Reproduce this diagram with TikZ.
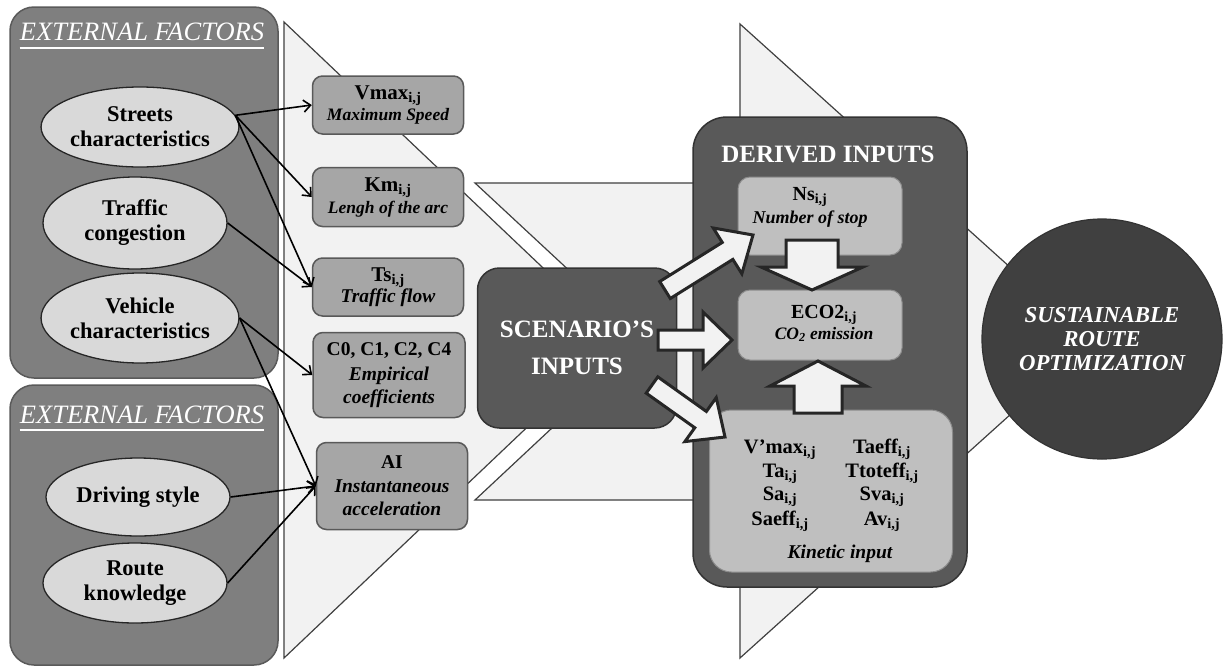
\documentclass[tikz,border=0pt]{standalone}
\usepackage{fontspec}
\setmainfont{Liberation Serif}
\usetikzlibrary{arrows.meta,shapes.geometric,calc}

\definecolor{trifill}{HTML}{F2F2F2}
\definecolor{triline}{HTML}{404040}
\definecolor{panelfill}{HTML}{7F7F7F}
\definecolor{panelline}{HTML}{5A5A5A}
\definecolor{ellfill}{HTML}{D9D9D9}
\definecolor{ellline}{HTML}{262626}
\definecolor{parfill}{HTML}{A6A6A6}
\definecolor{parline}{HTML}{595959}
\definecolor{darkfill}{HTML}{595959}
\definecolor{darkline}{HTML}{333333}
\definecolor{innerfill}{HTML}{BFBFBF}
\definecolor{innerline}{HTML}{8C8C8C}
\definecolor{goalfill}{HTML}{404040}
\definecolor{arrowfill}{HTML}{F2F2F2}
\definecolor{arrowline}{HTML}{262626}

\newcommand\ijsub{\textsubscript{i,j}}
\newcommand\fsz[2]{\fontsize{#1}{#2}\selectfont}
% thick outlined block arrow from #1 to #2: shaft half width #3, head half width #4, head length #5
\newcommand\blockarrow[5]{%
  \coordinate (bah) at ($(#2)!#5!(#1)$);
  \draw[blockarrow] ($(#1)!#3!90:(#2)$) -- ($(bah)!#3!-90:(#1)$) -- ($(bah)!#4!-90:(#1)$)
    -- (#2) -- ($(bah)!#4!90:(#1)$) -- ($(bah)!#3!90:(#1)$) -- ($(#1)!#3!-90:(#2)$) -- cycle;}

\begin{document}
\begin{tikzpicture}[x=1pt,y=-1pt,
  flowshape/.style={fill=trifill, draw=triline, line width=1.2pt, line join=miter},
  panelbox/.style={fill=panelfill, draw=panelline, line width=1.5pt, rounded corners=24pt},
  paneltitle/.style={text=white, font=\fsz{26.5}{30}\itshape, anchor=base, inner sep=0pt},
  factor/.style={ellipse, fill=ellfill, draw=ellline, line width=1.3pt, minimum width=184pt,
    inner sep=0pt, align=center, font=\fsz{22.5}{25}\bfseries},
  param/.style={rectangle, rounded corners=10pt, fill=parfill, draw=parline, line width=1.5pt,
    minimum width=151pt, inner sep=0pt, align=center, font=\fsz{19}{22}\bfseries},
  conn/.style={line width=1.6pt, -{Straight Barb[length=7pt,width=12pt]}},
  darkbox/.style={rectangle, fill=darkfill, draw=darkline, line width=1.5pt},
  innerbox/.style={rectangle, fill=innerfill, draw=innerline, line width=1pt},
  blockarrow/.style={fill=arrowfill, draw=arrowline, line width=3pt, line join=miter},
  lbl/.style={anchor=base, inner sep=0pt, font=\fsz{20}{21}\bfseries},
  kinval/.style={anchor=base, inner sep=0pt, font=\fsz{20.5}{21}\bfseries},
  desc/.style={anchor=base, inner sep=0pt, font=\fsz{18}{21}\bfseries\itshape},
]
\useasboundingbox (0,0) rectangle (1229,670);
\fill[white] (0,0) rectangle (1229,670);

% flow shapes in the background
\draw[flowshape] (284,22) -- (284,658) -- (619,340) -- cycle;
\draw[flowshape] (475,183) -- (720,183) -- (890,341) -- (720,500) -- (475,500) -- (645,341) -- cycle;
\draw[flowshape] (740,24) -- (740,658) -- (1092,341) -- cycle;

% external factor panels
\draw[panelbox] (10,7) rectangle (278,378);
\draw[panelbox] (10,385) rectangle (278,665);
\node[paneltitle] (title1) at (142,40) {EXTERNAL FACTORS};
\draw[white, line width=1.5pt] ($(title1.base west)+(0,8)$) -- ($(title1.base east)+(0,8)$);
\node[paneltitle] (title2) at (142,423) {EXTERNAL FACTORS};
\draw[white, line width=1.5pt] ($(title2.base west)+(0,7)$) -- ($(title2.base east)+(0,7)$);

% factors
\node[factor, minimum height=80pt] (streets) at (140,127) {Streets\\characteristics};
\node[factor, minimum height=92pt] (traffic) at (135,223) {Traffic\\congestion};
\node[factor, minimum height=90pt] (vehicle) at (140,318) {Vehicle\\characteristics};
\node[factor, minimum height=78pt] (driving) at (138,497) {Driving style};
\node[factor, minimum height=80pt] (route) at (135,583) {Route\\knowledge};

% scenario parameters
\node[param, minimum height=58pt, font=\fsz{21}{21}\bfseries] (vmax) at (388,105)
  {Vmax\ijsub\\ \fsz{17.5}{21}\itshape Maximum Speed};
\node[param, minimum height=59pt, font=\fsz{21}{22}\bfseries] (km) at (388,197)
  {Km\ijsub\\ \fsz{17.5}{22}\itshape Lengh of the arc};
\node[param, minimum height=58pt, font=\fsz{21}{21}\bfseries] (ts) at (388,287)
  {Ts\ijsub\\ \fsz{19.5}{21}\itshape Traffic flow};
\node[param, minimum width=152pt, minimum height=85pt, font=\fsz{19.5}{23}\bfseries] (c0) at (389,375)
  {C0, C1, C2, C4\\[2pt] \itshape Empirical\\ \itshape coefficients};
\node[param, minimum height=87pt, font=\fsz{19.5}{23.5}\bfseries] (ai) at (392,486)
  {AI\\ \itshape Instantaneous\\ \itshape acceleration};

% factor to parameter links
\draw[conn] (streets.7) -- (vmax.west);
\draw[conn] (streets.7) -- (km.west);
\draw[conn] (streets.7) -- (ts.west);
\draw[conn] (traffic.east) -- (ts.west);
\draw[conn] (vehicle.east) -- (c0.west);
\draw[conn] (vehicle.east) -- (ai.west);
\draw[conn] (driving.east) -- (ai.west);
\draw[conn] (route.east) -- (ai.west);

% scenario inputs
\node[darkbox, rounded corners=22pt, minimum width=199pt, minimum height=160pt, text=white,
  align=center, font=\fsz{25}{37}\bfseries] (scen) at (577,348) {SCENARIO’S\\INPUTS};

% derived inputs
\node[darkbox, rounded corners=34pt, minimum width=274pt, minimum height=470pt] (der) at (830,352) {};
\node[anchor=base, inner sep=0pt, text=white, font=\fsz{25}{30}\bfseries] (dertitle) at (828,162) {DERIVED INPUTS};

\node[innerbox, rounded corners=12pt, minimum width=164pt, minimum height=78pt] (ns) at (820,216) {};
\node[lbl] (nslbl) at (810,200) {Ns\ijsub};
\node[desc] (nsdesc) at (810,223) {Number of stop};

\node[innerbox, rounded corners=12pt, minimum width=164pt, minimum height=70pt] (eco) at (820,325) {};
\node[lbl] (ecolbl) at (824,318) {ECO2\ijsub};
\node[desc, font=\fsz{17.5}{21}\bfseries\itshape] (ecodesc) at (824,339) {CO\textsubscript{2} emission};

\node[innerbox, rounded corners=22pt, minimum width=243pt, minimum height=162pt] (kin) at (831,491) {};
\node[kinval] (k1) at (780,453) {V’max\ijsub};
\node[kinval] (k2) at (780,477) {Ta\ijsub};
\node[kinval] (k3) at (780,500) {Sa\ijsub};
\node[kinval] (k4) at (780,525) {Saeff\ijsub};
\node[kinval] (k5) at (882,453) {Taeff\ijsub};
\node[kinval] (k6) at (882,477) {Ttoteff\ijsub};
\node[kinval] (k7) at (882,500) {Sva\ijsub};
\node[kinval] (k8) at (882,525) {Av\ijsub};
\node[desc, font=\fsz{19.5}{21}\bfseries\itshape] (kindesc) at (840,558) {Kinetic input};

% final goal
\node[circle, fill=goalfill, draw=darkline, line width=1.2pt, minimum size=240pt, inner sep=0pt,
  text=white, align=center, font=\fsz{22.8}{24}\bfseries\itshape] (goal) at (1102,339)
  {SUSTAINABLE\\ROUTE\\OPTIMIZATION};

% block arrows
\coordinate (a1s) at (665,290); \coordinate (a1t) at (753,235);
\blockarrow{a1s}{a1t}{10pt}{27pt}{30pt}
\coordinate (a2s) at (658,340); \coordinate (a2t) at (732,340);
\blockarrow{a2s}{a2t}{10pt}{28pt}{29pt}
\coordinate (a3s) at (652,385); \coordinate (a3t) at (725,437);
\blockarrow{a3s}{a3t}{10pt}{27pt}{30pt}
\coordinate (a4s) at (812,240); \coordinate (a4t) at (812,290);
\blockarrow{a4s}{a4t}{26pt}{51pt}{23pt}
\coordinate (a5s) at (818,413); \coordinate (a5t) at (818,361);
\blockarrow{a5s}{a5t}{24pt}{48pt}{25pt}
\end{tikzpicture}
\end{document}
